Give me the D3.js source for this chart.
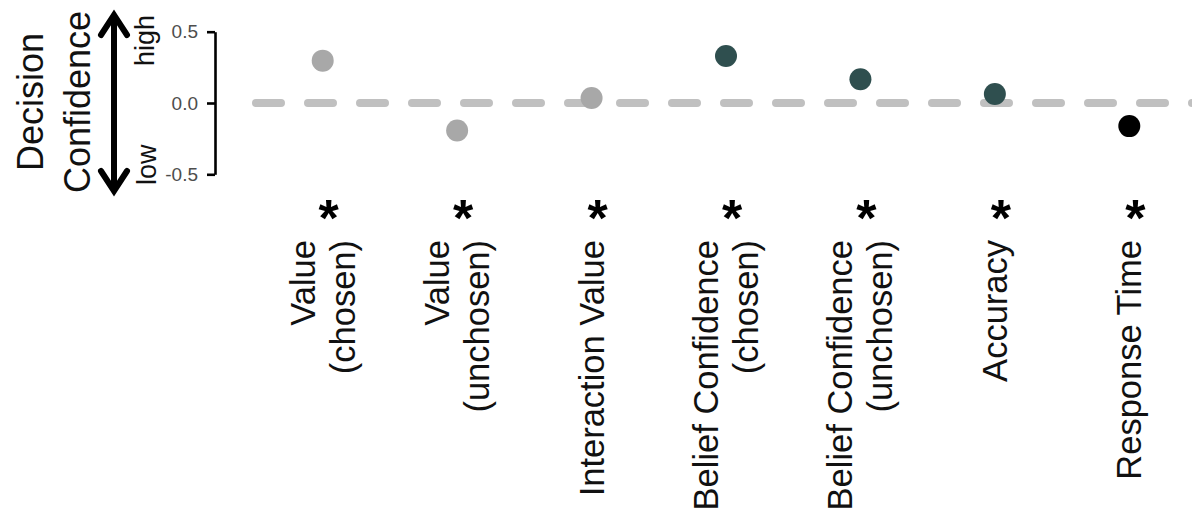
<!DOCTYPE html>
<html>
<head>
<meta charset="utf-8">
<script src="https://cdn.jsdelivr.net/npm/d3@7"></script>
<style>
  html, body { margin: 0; padding: 0; background: #fff; }
  svg { display: block; font-family: "Liberation Sans", Arial, sans-serif; }
</style>
</head>
<body>
<svg id="chart" width="1192" height="513"></svg>
<script>
// Predictors of decision confidence (standardised coefficients)
const labels = [
  ["Value", "(chosen)"],
  ["Value", "(unchosen)"],
  ["Interaction Value"],
  ["Belief Confidence", "(chosen)"],
  ["Belief Confidence", "(unchosen)"],
  ["Accuracy"],
  ["Response Time"]
];
const categories = labels.map(d => d.join(" "));
const coefficients = [0.297, -0.193, 0.035, 0.329, 0.166, 0.063, -0.162];
const groups = ["value", "value", "value", "belief", "belief", "belief", "rt"];
const significance = ["*", "*", "*", "*", "*", "*", "*"];
const yTicks = [-0.5, 0, 0.5];

const groupColor = { value: "#a8a8a8", belief: "#2f4f4f", rt: "#000000" };

const svg = d3.select("#chart");

const x = d3.scalePoint().domain(categories).range([322.7, 1129.3]);
const y = d3.scaleLinear().domain([-0.5, 0.5]).range([174.3, 31.7]);

// zero reference line
svg.append("line")
  .attr("x1", 256).attr("x2", 1230)
  .attr("y1", y(0)).attr("y2", y(0))
  .attr("stroke", "#c0c0c0")
  .attr("stroke-width", 8)
  .attr("stroke-linecap", "round")
  .attr("stroke-dasharray", "25 27");

// y axis (plain hyphen for negative numbers)
const fmt = d3.formatLocale({ decimal: ".", thousands: ",", grouping: [3], currency: ["", ""], minus: "-" }).format(".1f");
const yAxis = d3.axisLeft(y)
  .tickValues(yTicks)
  .tickFormat(fmt)
  .tickSize(8)
  .tickSizeOuter(0)
  .tickPadding(9);
const gy = svg.append("g").attr("transform", "translate(215,0)").call(yAxis);
gy.select(".domain").attr("stroke", "#000").attr("stroke-width", 2.6);
gy.selectAll(".tick line").attr("stroke", "#000").attr("stroke-width", 2.6);
gy.selectAll(".tick text")
  .attr("fill", "#4d4d4d")
  .style("font-size", "19px")
  .style("font-family", "Liberation Sans, Arial, sans-serif");

// axis title
const title = svg.append("text")
  .attr("transform", "translate(0,102) rotate(-90)")
  .attr("text-anchor", "middle")
  .style("font-size", "36px")
  .attr("fill", "#111");
title.append("tspan").attr("x", 0).attr("y", 43).text("Decision");
title.append("tspan").attr("x", 0).attr("y", 90).text("Confidence");

// double-headed arrow
const arrowX = 114, arrowTop = 15, arrowBot = 191;
svg.append("line")
  .attr("x1", arrowX).attr("x2", arrowX)
  .attr("y1", arrowTop + 2).attr("y2", arrowBot - 2)
  .attr("stroke", "#000").attr("stroke-width", 6);
[[arrowTop, 1], [arrowBot, -1]].forEach(([tip, dir]) => {
  svg.append("path")
    .attr("d", `M${arrowX - 13},${tip + dir * 20} L${arrowX},${tip} L${arrowX + 13},${tip + dir * 20}`)
    .attr("fill", "none")
    .attr("stroke", "#000")
    .attr("stroke-width", 6)
    .attr("stroke-linecap", "round")
    .attr("stroke-linejoin", "miter");
});

svg.append("text")
  .attr("transform", "translate(154,15) rotate(-90)")
  .attr("text-anchor", "end")
  .style("font-size", "27px")
  .attr("fill", "#111")
  .text("high");
svg.append("text")
  .attr("transform", "translate(156,185) rotate(-90)")
  .attr("text-anchor", "start")
  .style("font-size", "27px")
  .attr("fill", "#111")
  .text("low");

// points
svg.append("g").selectAll("circle")
  .data(categories)
  .join("circle")
  .attr("cx", d => x(d))
  .attr("cy", (d, i) => y(coefficients[i]))
  .attr("r", 11)
  .attr("fill", (d, i) => groupColor[groups[i]]);

// category labels, rotated
const lineGap = 40;
const lab = svg.append("g").selectAll("text")
  .data(labels)
  .join("text")
  .attr("transform", (d, i) => `translate(${x(categories[i]) + 12},240) rotate(-90)`)
  .attr("text-anchor", "end")
  .style("font-size", "34.5px")
  .attr("fill", "#111");
lab.selectAll("tspan")
  .data(d => d.map((t, j) => ({ t, j, n: d.length })))
  .join("tspan")
  .attr("x", 0)
  .attr("y", d => (d.j - (d.n - 1) / 2) * lineGap)
  .text(d => d.t);

// significance markers
svg.append("g").selectAll("text")
  .data(significance)
  .join("text")
  .attr("x", (d, i) => x(categories[i]) + 6)
  .attr("y", 236)
  .attr("text-anchor", "middle")
  .style("font-size", "52px")
  .style("font-weight", "bold")
  .attr("fill", "#000")
  .text(d => d);
</script>
</body>
</html>
